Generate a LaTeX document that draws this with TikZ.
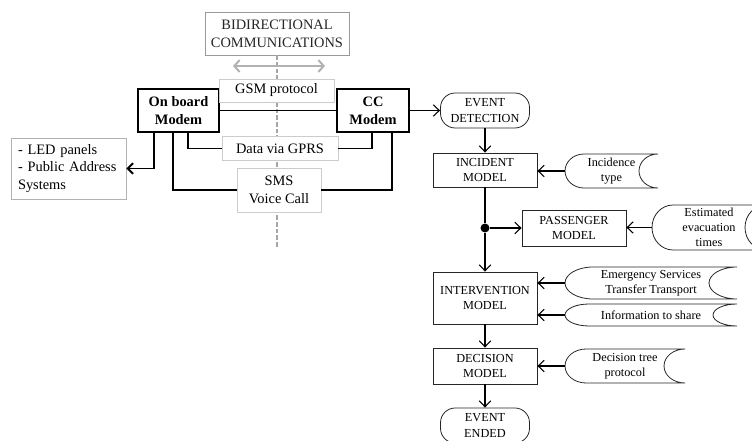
\documentclass[tikz,border=0pt]{standalone}
\usepackage{fontspec}
\setmainfont{Liberation Serif}
\usetikzlibrary{positioning,arrows.meta}

\newcommand{\storedbox}[7]{
  \pgfmathsetmacro{\sdw}{(#3-#2)*0.75}
  \pgfmathsetmacro{\sdh}{(#5-#4)*0.75}
  \pgfmathsetmacro{\sdhh}{(#5-#4)*0.375}
  \pgfmathsetmacro{\sdr}{#6*0.75}
  \node[storetext, minimum width=\sdw pt, minimum height=\sdh pt] (#1) at ({(#2+#3)/2},{(#4+#5)/2}) {#7};
  \draw[boxline] (#2+#6,#4) -- (#3,#4)
    arc[start angle=90, end angle=270, x radius=\sdr pt, y radius=\sdhh pt]
    -- (#2+#6,#5)
    arc[start angle=270, end angle=90, x radius=\sdr pt, y radius=\sdhh pt] -- cycle;
}

\tikzset{
  commfont/.style={font=\fontsize{10.8}{13.3}\selectfont},
  greybox/.style={commfont, draw=black!20, fill=white, line width=0.7pt, inner sep=1pt, align=center},
  modem/.style={commfont, draw, fill=white, line width=1.1pt, inner sep=1pt, align=center, font=\fontsize{10.8}{13.3}\selectfont\bfseries},
  link/.style={line width=1.4pt},
  commdash/.style={draw=black!35, line width=1.5pt, dash pattern=on 3.5pt off 1.5pt},
  commarrow/.style={draw=black!30, line width=1.5pt, {Straight Barb[length=4pt,width=9pt]}-{Straight Barb[length=4pt,width=9pt]}},
  flowfont/.style={font=\fontsize{9.2}{11.4}\selectfont},
  boxline/.style={line width=0.6pt, draw=black!85},
  model/.style={flowfont, boxline, inner sep=1pt, align=center, minimum width=78pt},
  terminal/.style={model, rounded corners=11pt, minimum width=66.75pt, minimum height=26.25pt},
  storetext/.style={flowfont, inner sep=0pt, align=center},
  flowline/.style={line width=0.8pt},
  flowarrow/.style={flowline, -{Straight Barb[length=4.5pt,width=8.5pt]}},
}

\begin{document}
\begin{tikzpicture}[x=0.75pt,y=-0.75pt]
\clip (0,0) rectangle (752,441);
% bidirectional link between the two modems:
\node[greybox, draw=black!40, text=black!85, minimum width=108pt, minimum height=32.25pt] (bidir) at (277,33.5) {BIDIRECTIONAL\\COMMUNICATIONS};
\coordinate (dashend) at (277,248);
\draw[commdash] (bidir.south) -- (dashend);
\coordinate (arrl) at (233,66);
\coordinate (arrr) at (325,66);
\draw[commarrow] (arrl) -- (arrr);
\node[modem, minimum width=60.75pt, minimum height=32.25pt] (onb) at (178.5,110.5) {On board\\Modem};
\node[modem, minimum width=54pt, minimum height=32.25pt] (cc) at (373,110.5) {CC\\Modem};
\draw[link] (onb) -- (cc);
\node[greybox, minimum width=86.25pt, minimum height=17.25pt] (gsm) at (276.5,90.5) {GSM protocol};
\node[greybox, minimum width=87pt, minimum height=18pt] (gprs) at (280,148.5) {Data via GPRS};
\node[greybox, minimum width=63pt, minimum height=33pt] (sms) at (279,190) {SMS\\Voice Call};
\node[greybox, draw=black!30, align=left, text width=75.75pt, minimum height=45.75pt, inner xsep=5.25pt] (led) at (68.5,168.5) {- LED panels\\- Public Address\\Systems};
\draw[link, -{Straight Barb[length=4pt,width=8pt]}] ([xshift=-18.4pt]onb.south) |- (led);
\foreach \s/\d in {7.1pt/gprs, -4.1pt/sms}
  \draw[link] ([xshift=\s]onb.south) |- (\d);
\foreach \s/\d in {-0.75pt/gprs, 14.25pt/sms}
  \draw[link] ([xshift=\s]cc.south) |- (\d);
% flow of the control centre:
\node[terminal] (evdet) at (485,110.5) {EVENT\\DETECTION};
\draw[flowarrow] (cc) -- (evdet);
\node[model, minimum height=25.5pt] (incm) at (485,170) {INCIDENT\\MODEL};
\node[model, minimum height=27pt] (pasm) at (574,228) {PASSENGER\\MODEL};
\node[model, minimum height=39pt] (intm) at (485,298) {INTERVENTION\\MODEL};
\node[model, minimum height=27pt] (decm) at (485,366) {DECISION\\MODEL};
\node[terminal] (evend) at (485,425.5) {EVENT\\ENDED};
\node[circle, fill, inner sep=0pt, minimum size=6.75pt] (jn) at (incm.south |- pasm.west) {};
\draw[flowline] (incm) -- (jn);
\draw[flowarrow] (jn) -- (pasm);
\draw[flowarrow] (jn) -- (intm);
\foreach \u/\v in {evdet/incm, intm/decm, decm/evend}
  \draw[flowarrow] (\u.south) -- (\u.south |- \v.north);
\storedbox{incty}{565}{658}{154}{188}{19}{Incidence\\type}
\storedbox{evac}{652}{766}{205}{250}{21}{Estimated\\evacuation\\times}
\storedbox{ems}{565}{737}{267}{299}{28}{Emergency Services\\Transfer Transport}
\storedbox{info}{565}{737}{304}{326}{24}{Information to share}
\storedbox{dtp}{565}{685}{349}{383}{21}{Decision tree\\protocol}
\foreach \s/\m in {incty/incm, evac/pasm, ems/intm, info/intm, dtp/decm}
  \draw[flowarrow] (\s.west) -- (\s.west -| \m.east);
\end{tikzpicture}
\end{document}
